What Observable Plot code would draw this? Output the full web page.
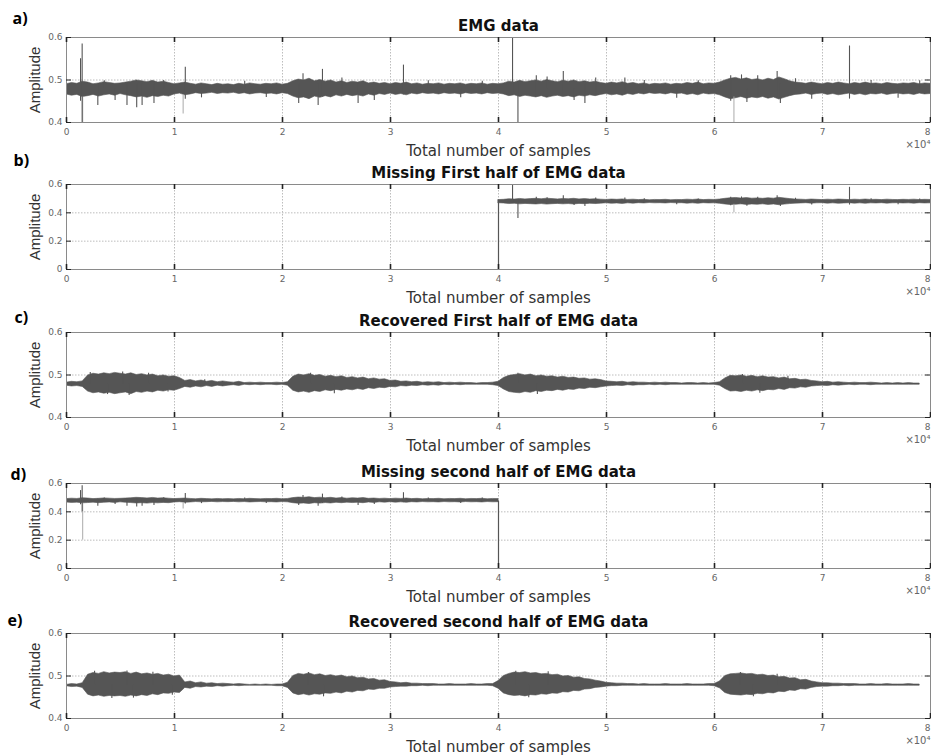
<!DOCTYPE html>
<html><head><meta charset="utf-8">
<script src="https://cdn.jsdelivr.net/npm/d3@7"></script>
<script src="https://cdn.jsdelivr.net/npm/@observablehq/plot@0.6"></script>
<style>
body{margin:0;background:#fff;}
#wrap{position:relative;width:931px;height:756px;overflow:hidden;background:#fff;}
.panel{position:absolute;left:0;}
.panel svg{overflow:visible;}
</style></head><body><div id="wrap"></div>
<script>
// ---------- data ----------
const xTickValues = [0, 10000, 20000, 30000, 40000, 50000, 60000, 70000, 80000];
const xTickLabels = ["0", "1", "2", "3", "4", "5", "6", "7", "8"];
const yTicksNarrow = [0.4, 0.5, 0.6];
const yTicksWide = [0, 0.2, 0.4, 0.6];

// envelope step: one reading every 500 samples
const envStep = 500;

// a) original EMG: upper / lower envelope, 0 .. 80000 samples
const emgHi = [
  0.490,0.493,0.491,0.496,0.494,0.490,0.492,0.495,0.493,0.491,
  0.492,0.494,0.496,0.499,0.497,0.495,0.498,0.494,0.496,0.493,
  0.490,0.492,0.494,0.491,0.489,0.492,0.490,0.488,0.491,0.489,
  0.490,0.488,0.491,0.489,0.492,0.490,0.489,0.491,0.490,0.492,
  0.489,0.491,0.497,0.501,0.499,0.503,0.497,0.500,0.496,0.499,
  0.494,0.497,0.493,0.496,0.494,0.497,0.492,0.494,0.491,0.493,
  0.490,0.493,0.491,0.494,0.490,0.492,0.489,0.491,0.490,0.492,
  0.489,0.491,0.490,0.492,0.489,0.491,0.490,0.492,0.489,0.491,
  0.490,0.492,0.496,0.494,0.498,0.495,0.497,0.499,0.496,0.500,
  0.497,0.495,0.498,0.496,0.499,0.495,0.497,0.494,0.496,0.493,
  0.491,0.494,0.492,0.495,0.491,0.493,0.490,0.492,0.489,0.491,
  0.490,0.492,0.489,0.491,0.490,0.493,0.491,0.494,0.490,0.492,
  0.491,0.494,0.499,0.503,0.505,0.501,0.504,0.500,0.502,0.499,
  0.503,0.500,0.506,0.502,0.497,0.494,0.493,0.491,0.494,0.492,
  0.490,0.493,0.491,0.494,0.492,0.490,0.493,0.491,0.494,0.491,
  0.492,0.490,0.493,0.491,0.490,0.492,0.491,0.493,0.490,0.492,
  0.491];
const emgLo = [
  0.466,0.463,0.465,0.460,0.462,0.465,0.461,0.464,0.466,0.463,
  0.467,0.464,0.462,0.459,0.461,0.458,0.462,0.460,0.463,0.461,
  0.466,0.468,0.464,0.466,0.469,0.467,0.468,0.470,0.467,0.469,
  0.468,0.470,0.467,0.469,0.466,0.468,0.469,0.467,0.468,0.466,
  0.469,0.467,0.461,0.457,0.459,0.455,0.461,0.458,0.462,0.459,
  0.464,0.461,0.465,0.462,0.464,0.461,0.466,0.463,0.467,0.465,
  0.468,0.465,0.467,0.464,0.468,0.466,0.469,0.467,0.468,0.466,
  0.469,0.467,0.468,0.466,0.469,0.467,0.468,0.466,0.469,0.467,
  0.468,0.466,0.462,0.464,0.460,0.463,0.461,0.459,0.462,0.458,
  0.461,0.463,0.460,0.462,0.459,0.463,0.461,0.464,0.462,0.465,
  0.467,0.464,0.466,0.463,0.467,0.465,0.468,0.466,0.469,0.467,
  0.468,0.466,0.469,0.467,0.468,0.465,0.467,0.464,0.468,0.466,
  0.467,0.464,0.459,0.455,0.457,0.460,0.456,0.459,0.457,0.460,
  0.456,0.459,0.454,0.458,0.462,0.465,0.466,0.468,0.465,0.467,
  0.468,0.465,0.467,0.464,0.466,0.468,0.465,0.467,0.464,0.467,
  0.466,0.468,0.465,0.467,0.468,0.466,0.467,0.465,0.468,0.466,
  0.467];

// isolated spikes of the original EMG (sample, low end, high end)
const spikeX  = [1300, 1450, 2900, 3500, 4500, 5600, 6500, 7000, 8100, 9000, 11000, 12500, 16500, 18500, 21500, 21900, 23300, 23700, 25500, 27000, 28500, 31200, 33500, 36500, 38500, 41300, 41800, 43500, 44500, 46000, 47000, 48000, 49000, 51700, 53500, 56500, 58500, 61500, 62500, 63000, 64000, 65800, 66100, 67500, 69000, 72500, 74500, 77000, 79000];
const spikeLo = [0.450, 0.400, 0.440, 0.478, 0.452, 0.440, 0.435, 0.440, 0.445, 0.478, 0.455, 0.458, 0.478, 0.459, 0.445, 0.460, 0.440, 0.460, 0.478, 0.445, 0.452, 0.465, 0.478, 0.458, 0.478, 0.470, 0.360, 0.465, 0.478, 0.465, 0.452, 0.445, 0.465, 0.466, 0.478, 0.457, 0.478, 0.450, 0.460, 0.447, 0.460, 0.460, 0.445, 0.478, 0.455, 0.455, 0.478, 0.457, 0.478];
const spikeHi = [0.550, 0.585, 0.490, 0.498, 0.478, 0.490, 0.490, 0.490, 0.490, 0.499, 0.530, 0.478, 0.497, 0.478, 0.490, 0.515, 0.490, 0.525, 0.505, 0.490, 0.478, 0.535, 0.498, 0.478, 0.497, 0.600, 0.490, 0.510, 0.507, 0.520, 0.478, 0.490, 0.505, 0.505, 0.499, 0.478, 0.498, 0.510, 0.512, 0.478, 0.510, 0.520, 0.490, 0.503, 0.478, 0.580, 0.499, 0.478, 0.498];
// faint, very short excursions
const faintX  = [1500, 10800, 61800];
const faintLo = [0.200, 0.420, 0.400];
const faintHi = [0.460, 0.465, 0.460];

// level of the signal where data was removed (zeros), and where it jumps back
const missingLevel = 0;
const jumpLevel = 0.478;
const halfPoint = 40000;
const lastSample = 80000;

// c) recovered first half, 0 .. 79000 samples
const recFirstHi = [
  0.482,0.484,0.483,0.485,0.499,0.503,0.501,0.504,0.502,0.505,
  0.503,0.501,0.504,0.500,0.502,0.499,0.501,0.497,0.499,0.496,
  0.497,0.493,0.486,0.488,0.485,0.487,0.484,0.486,0.483,0.485,
  0.483,0.482,0.484,0.481,0.482,0.481,0.482,0.481,0.481,0.482,
  0.481,0.483,0.496,0.501,0.499,0.502,0.498,0.500,0.496,0.498,
  0.495,0.497,0.493,0.495,0.492,0.494,0.490,0.492,0.489,0.490,
  0.486,0.487,0.484,0.485,0.483,0.484,0.482,0.483,0.482,0.483,
  0.481,0.482,0.481,0.482,0.481,0.481,0.480,0.481,0.481,0.482,
  0.484,0.493,0.498,0.500,0.502,0.499,0.501,0.497,0.499,0.496,
  0.497,0.494,0.496,0.493,0.494,0.491,0.492,0.489,0.490,0.488,
  0.485,0.484,0.483,0.484,0.482,0.483,0.482,0.482,0.481,0.482,
  0.481,0.482,0.481,0.481,0.480,0.481,0.481,0.480,0.481,0.480,
  0.481,0.483,0.492,0.498,0.497,0.499,0.496,0.498,0.495,0.497,
  0.494,0.495,0.492,0.494,0.490,0.491,0.488,0.489,0.486,0.485,
  0.483,0.484,0.482,0.483,0.482,0.481,0.482,0.481,0.481,0.482,
  0.481,0.480,0.481,0.480,0.481,0.480,0.481,0.480,0.480];
const recFirstLo = [
  0.475,0.473,0.474,0.472,0.461,0.457,0.459,0.456,0.458,0.455,
  0.457,0.459,0.455,0.460,0.458,0.461,0.459,0.463,0.461,0.464,
  0.463,0.467,0.472,0.470,0.473,0.471,0.474,0.472,0.475,0.473,
  0.475,0.476,0.474,0.477,0.476,0.477,0.476,0.477,0.477,0.476,
  0.477,0.475,0.463,0.459,0.461,0.458,0.462,0.460,0.464,0.462,
  0.465,0.463,0.466,0.464,0.467,0.465,0.469,0.467,0.470,0.469,
  0.472,0.471,0.474,0.473,0.475,0.474,0.476,0.475,0.476,0.475,
  0.477,0.476,0.477,0.476,0.477,0.477,0.477,0.477,0.477,0.476,
  0.474,0.466,0.460,0.458,0.457,0.460,0.458,0.462,0.460,0.463,
  0.462,0.465,0.463,0.466,0.465,0.468,0.467,0.470,0.469,0.471,
  0.473,0.474,0.475,0.474,0.476,0.475,0.476,0.476,0.477,0.476,
  0.477,0.476,0.477,0.477,0.477,0.477,0.477,0.477,0.477,0.477,
  0.477,0.475,0.467,0.461,0.462,0.460,0.463,0.461,0.464,0.462,
  0.465,0.464,0.467,0.465,0.469,0.468,0.471,0.470,0.473,0.474,
  0.475,0.474,0.476,0.475,0.476,0.477,0.476,0.477,0.477,0.476,
  0.477,0.477,0.477,0.477,0.477,0.477,0.477,0.477,0.477];
const recFirstSpikeX  = [2200, 3800, 5200, 5800, 7600, 9400, 12800, 22600, 24800, 41800, 43600, 62600, 64200, 66800];
const recFirstSpikeLo = [0.478, 0.454, 0.478, 0.452, 0.478, 0.460, 0.478, 0.478, 0.456, 0.478, 0.454, 0.478, 0.457, 0.478];
const recFirstSpikeHi = [0.506, 0.478, 0.507, 0.478, 0.504, 0.478, 0.489, 0.504, 0.478, 0.504, 0.478, 0.501, 0.478, 0.497];

// e) recovered second half, 0 .. 79000 samples
const recSecondHi = [
  0.479,0.481,0.480,0.483,0.503,0.507,0.505,0.509,0.506,0.508,
  0.507,0.509,0.505,0.508,0.504,0.506,0.503,0.505,0.501,0.503,
  0.499,0.501,0.485,0.487,0.483,0.485,0.482,0.483,0.481,0.482,
  0.481,0.480,0.481,0.480,0.479,0.480,0.479,0.480,0.479,0.480,
  0.480,0.484,0.500,0.505,0.503,0.506,0.502,0.504,0.500,0.502,
  0.499,0.501,0.497,0.499,0.495,0.496,0.492,0.493,0.489,0.490,
  0.486,0.485,0.483,0.484,0.482,0.482,0.481,0.481,0.481,0.480,
  0.480,0.481,0.480,0.480,0.480,0.481,0.480,0.480,0.481,0.481,
  0.488,0.500,0.505,0.508,0.507,0.509,0.506,0.507,0.504,0.505,
  0.502,0.503,0.499,0.500,0.496,0.497,0.493,0.492,0.489,0.487,
  0.484,0.483,0.482,0.482,0.481,0.481,0.480,0.481,0.480,0.480,
  0.480,0.481,0.480,0.480,0.480,0.481,0.480,0.480,0.480,0.481,
  0.481,0.487,0.500,0.504,0.505,0.506,0.504,0.505,0.502,0.503,
  0.500,0.501,0.497,0.498,0.494,0.495,0.490,0.491,0.487,0.485,
  0.483,0.483,0.482,0.482,0.481,0.481,0.481,0.480,0.480,0.481,
  0.480,0.480,0.481,0.480,0.480,0.480,0.481,0.480,0.480];
const recSecondLo = [
  0.476,0.474,0.475,0.472,0.456,0.452,0.454,0.451,0.453,0.452,
  0.453,0.451,0.454,0.452,0.455,0.453,0.457,0.455,0.459,0.458,
  0.461,0.460,0.472,0.470,0.474,0.473,0.475,0.474,0.476,0.475,
  0.476,0.477,0.476,0.477,0.477,0.477,0.477,0.477,0.477,0.476,
  0.476,0.472,0.459,0.455,0.457,0.454,0.457,0.456,0.459,0.458,
  0.461,0.459,0.463,0.461,0.465,0.464,0.468,0.467,0.470,0.470,
  0.473,0.474,0.475,0.475,0.476,0.476,0.477,0.476,0.477,0.477,
  0.477,0.477,0.477,0.477,0.477,0.477,0.477,0.477,0.477,0.476,
  0.470,0.459,0.455,0.453,0.454,0.452,0.455,0.454,0.457,0.456,
  0.459,0.458,0.462,0.461,0.465,0.464,0.468,0.469,0.472,0.473,
  0.475,0.476,0.476,0.477,0.477,0.477,0.477,0.477,0.477,0.477,
  0.477,0.477,0.477,0.477,0.477,0.477,0.477,0.477,0.477,0.477,
  0.476,0.471,0.460,0.456,0.455,0.454,0.456,0.455,0.458,0.457,
  0.460,0.459,0.463,0.462,0.466,0.465,0.469,0.468,0.472,0.474,
  0.475,0.475,0.476,0.476,0.477,0.476,0.477,0.477,0.477,0.477,
  0.477,0.477,0.477,0.477,0.477,0.477,0.477,0.477,0.477];
const recSecondSpikeX  = [2600, 4200, 5600, 6200, 8000, 9800, 22400, 23800, 41600, 42800, 44600, 62400, 63600, 65800];
const recSecondSpikeLo = [0.478, 0.447, 0.478, 0.448, 0.478, 0.455, 0.478, 0.451, 0.478, 0.449, 0.478, 0.478, 0.451, 0.478];
const recSecondSpikeHi = [0.511, 0.478, 0.512, 0.478, 0.509, 0.478, 0.508, 0.478, 0.511, 0.478, 0.510, 0.508, 0.478, 0.504];

// ---------- tables ----------
const envTable = (hi, lo) => hi.map((h, i) => ({x: i * envStep, lo: lo[i], hi: h}));
const spikeTable = (xs, lo, hi) => xs.map((x, i) => ({x, lo: lo[i], hi: hi[i]}));

const emgEnv = envTable(emgHi, emgLo);
const emgSpikes = spikeTable(spikeX, spikeLo, spikeHi);
const emgFaint = spikeTable(faintX, faintLo, faintHi);
const recFirstEnv = envTable(recFirstHi, recFirstLo);
const recFirstSpikes = spikeTable(recFirstSpikeX, recFirstSpikeLo, recFirstSpikeHi);
const recSecondEnv = envTable(recSecondHi, recSecondLo);
const recSecondSpikes = spikeTable(recSecondSpikeX, recSecondSpikeLo, recSecondSpikeHi);

const missingFirstPath = [{x: 0, y: missingLevel}, {x: halfPoint, y: missingLevel}, {x: halfPoint, y: jumpLevel}];
const missingSecondPath = [{x: halfPoint, y: jumpLevel}, {x: halfPoint, y: missingLevel}, {x: lastSample, y: missingLevel}];

// ---------- drawing ----------
const SIG = "#555";
const W = 931, ML = 66, MR = 1, MT = 37, H = 85, MB = 40;

function signalMarks(env, spikes, faint) {
  const m = [Plot.areaY(env, {x: "x", y1: "lo", y2: "hi", fill: SIG, stroke: SIG, strokeWidth: 0.6, clip: true})];
  if (faint) m.push(Plot.ruleX(faint, {x: "x", y1: "lo", y2: "hi", stroke: "#aaa", strokeWidth: 1, clip: true}));
  if (spikes) m.push(Plot.ruleX(spikes, {x: "x", y1: "lo", y2: "hi", stroke: SIG, strokeWidth: 1.1, clip: true}));
  return m;
}
const firstHalf = d => d.x <= halfPoint;
const secondHalf = d => d.x >= halfPoint;

const panels = [
  {letter: "a)", lx: 12, ly: 19, title: "EMG data", top: 37, y: [0.4, 0.6], ticks: yTicksNarrow,
   marks: signalMarks(emgEnv, emgSpikes, emgFaint)},
  {letter: "b)", lx: 13, ly: 24, title: "Missing First half of EMG data", top: 184, y: [0, 0.6], ticks: yTicksWide,
   marks: [...signalMarks(emgEnv.filter(secondHalf), emgSpikes.filter(secondHalf), emgFaint.filter(secondHalf)),
           Plot.line(missingFirstPath, {x: "x", y: "y", stroke: SIG, strokeWidth: 1.2})]},
  {letter: "c)", lx: 14, ly: 15, title: "Recovered First half of EMG data", top: 332, y: [0.4, 0.6], ticks: yTicksNarrow,
   marks: signalMarks(recFirstEnv, recFirstSpikes, null)},
  {letter: "d)", lx: 10, ly: 9, title: "Missing second half of EMG data", top: 483, y: [0, 0.6], ticks: yTicksWide,
   marks: [...signalMarks(emgEnv.filter(firstHalf), emgSpikes.filter(firstHalf), emgFaint.filter(firstHalf)),
           Plot.line(missingSecondPath, {x: "x", y: "y", stroke: SIG, strokeWidth: 1.2})]},
  {letter: "e)", lx: 7, ly: 13, title: "Recovered second half of EMG data", top: 633, y: [0.4, 0.6], ticks: yTicksNarrow,
   marks: signalMarks(recSecondEnv, recSecondSpikes, null)}
];

const wrap = document.getElementById("wrap");
const yFmt = d => d === 0 ? "0" : d3.format(".1f")(d);
const innerTicks = xTickValues.slice(0, -1);
const edgeTick = xTickValues.slice(-1);
const xLabel = d => xTickLabels[xTickValues.indexOf(d)];

for (const p of panels) {
  const chart = Plot.plot({
    width: W, height: MT + H + MB,
    marginTop: MT, marginBottom: MB, marginLeft: ML, marginRight: MR,
    style: {background: "transparent", overflow: "visible", fontFamily: "DejaVu Sans"},
    x: {domain: [0, lastSample]},
    y: {domain: p.y},
    marks: [
      Plot.gridX(xTickValues, {stroke: "#bdbdbd", strokeOpacity: 1, strokeDasharray: "1.5,1.5"}),
      Plot.gridY(p.ticks, {stroke: "#bdbdbd", strokeOpacity: 1, strokeDasharray: "1.5,1.5"}),
      ...p.marks,
      Plot.frame({stroke: "#8a8a8a"}),
      Plot.tickX(xTickValues, {x: d => d, insetTop: H - 5, stroke: "#222", strokeWidth: 1.6}),
      Plot.tickX(xTickValues, {x: d => d, insetBottom: H - 5, stroke: "#222", strokeWidth: 1.6}),
      Plot.tickY(p.ticks, {y: d => d, insetRight: W - ML - MR - 5, stroke: "#222", strokeWidth: 1}),
      Plot.tickY(p.ticks, {y: d => d, insetLeft: W - ML - MR - 5, stroke: "#222", strokeWidth: 1}),
      Plot.axisX(innerTicks, {tickSize: 0, tickPadding: 6, tickFormat: xLabel, fontSize: 9, color: "#666", label: null}),
      Plot.axisX(edgeTick, {tickSize: 0, tickPadding: 6, tickFormat: xLabel, fontSize: 9, color: "#666", label: null, dx: -3}),
      Plot.axisY(p.ticks, {tickSize: 0, tickPadding: 4, tickFormat: yFmt, fontSize: 9, color: "#666", label: null}),
      Plot.text([p.title], {text: d => d, frameAnchor: "top", dy: -11, lineAnchor: "middle", fontWeight: "bold", fontSize: 15, fill: "#111", fontFamily: "DejaVu Sans"}),
      Plot.text(["Total number of samples"], {text: d => d, frameAnchor: "bottom", dy: 29, lineAnchor: "middle", fontSize: 15, fill: "#333", fontFamily: "DejaVu Sans"}),
      Plot.text(["×10⁴"], {text: d => d, frameAnchor: "bottom-right", dx: 0, dy: 22, lineAnchor: "middle", textAnchor: "end", fontSize: 10, fill: "#666", fontFamily: "DejaVu Sans"}),
      Plot.text(["Amplitude"], {text: d => d, frameAnchor: "left", dx: -31, rotate: -90, textAnchor: "middle", lineAnchor: "middle", fontSize: 15, fill: "#333", fontFamily: "Liberation Sans"}),
      Plot.text([p.letter], {text: d => d, frameAnchor: "top-left", dx: p.lx - ML, dy: -p.ly, textAnchor: "start", lineAnchor: "middle", fontWeight: "bold", fontSize: 16, fill: "#000", fontFamily: "Open Sans"})
    ]
  });
  const div = document.createElement("div");
  div.className = "panel";
  div.style.top = (p.top - MT) + "px";
  div.appendChild(chart);
  wrap.appendChild(div);
}
</script></body></html>
